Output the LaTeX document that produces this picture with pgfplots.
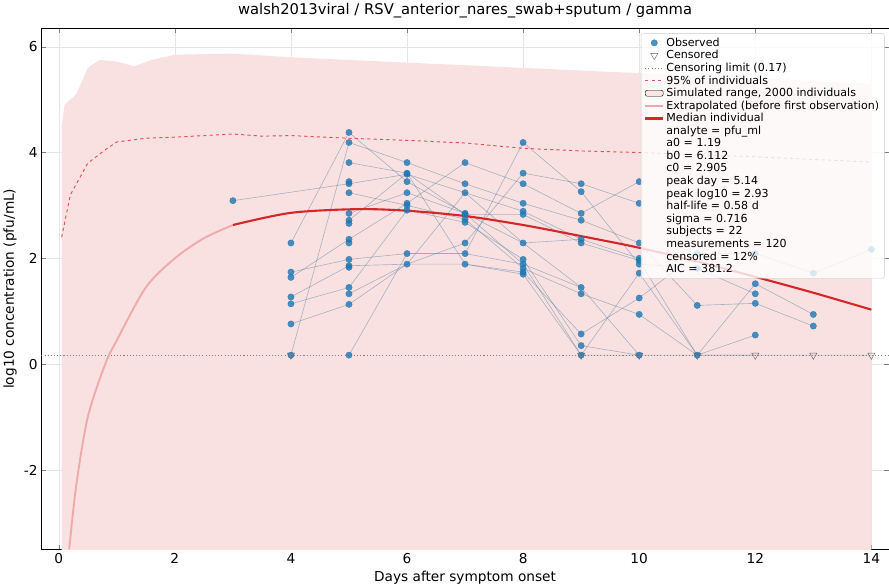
\documentclass[border=0pt]{standalone}
\usepackage{pgfplots}
\pgfplotsset{compat=1.18}
\usepackage{fontspec}
\setmainfont{DejaVu Sans}
\definecolor{obs}{RGB}{31,119,180}
\definecolor{med}{RGB}{214,39,40}
\definecolor{sim}{RGB}{250,225,225}
\begin{document}
\begin{tikzpicture}
\begin{axis}[
 scale only axis, width=805pt, height=495pt,
 xmin=-0.3, xmax=14.3, ymin=-3.5, ymax=6.35,
 xtick={0,2,...,14}, ytick={-2,0,2,4,6},
 tick label style={font=\fontsize{13}{15}\selectfont},
 /pgf/number format/assume math mode=true,
 grid=major, grid style={gray!20},
 title={walsh2013viral / RSV\_anterior\_nares\_swab+sputum / gamma},
 title style={font=\fontsize{14}{16}\selectfont},
 xlabel={Days after symptom onset}, ylabel={log10 concentration (pfu/mL)},
 label style={font=\fontsize{13}{15}\selectfont},
 legend style={at={(0.995,0.99)},anchor=north east,font=\fontsize{10.5}{12}\selectfont,
   fill=white,fill opacity=0.8,text opacity=1,draw=gray!40,rounded corners=2pt,row sep=-1.5pt},
 legend cell align=left,
]
\addplot[fill=sim,draw=none,forget plot] coordinates {(0.05,-3.6)(0.05,4.5)(0.1,4.9)(0.3,5.1)(0.5,5.6)(0.7,5.75)(1,5.72)(1.3,5.63)(1.6,5.75)(2,5.85)(3,5.87)(4,5.8)(6,5.7)(8,5.6)(10,5.5)(12,5.4)(14,5.3)(14,-3.6)} -- cycle;
\pgfplotsset{subj/.style={obs!60!gray,opacity=0.45,line width=0.6pt,forget plot}}
\addplot[subj] coordinates {(3,3.09)(5,3.41)(6,3.59)(7,3.24)(8,2.89)(9,2.36)(10,2.0)};
\addplot[subj] coordinates {(4,2.29)(5,4.38)(6,3.45)(7,2.85)(8,2.29)(9,1.45)(10,0.17)};
\addplot[subj] coordinates {(4,1.74)(5,1.98)(6,2.09)(7,2.09)(8,4.19)(9,3.26)(10,1.89)(11,1.81)(12,1.33)};
\addplot[subj] coordinates {(4,1.64)(5,2.36)(6,3.04)(7,3.81)(8,3.41)(9,2.85)(10,3.45)};
\addplot[subj] coordinates {(4,1.27)(5,1.86)(6,1.89)(7,1.89)(8,1.74)(9,0.57)(10,1.25)(11,2.09)(12,2.09)(13,1.72)(14,2.17)};
\addplot[subj] coordinates {(4,1.14)(5,1.45)(6,2.91)(7,2.68)(8,1.98)(9,0.35)(10,0.17)(11,0.17)(12,0.17)(13,0.17)(14,0.17)};
\addplot[subj] coordinates {(4,0.76)(5,1.13)(6,1.89)(7,2.29)(8,3.61)(9,3.41)(10,3.04)};
\addplot[subj] coordinates {(4,0.17)(5,4.19)(6,3.81)(7,3.41)(8,3.04)(9,2.72)(10,2.29)(11,1.11)(12,1.15)(13,0.72)};
\addplot[subj] coordinates {(5,3.81)(6,3.61)(7,2.83)(8,2.83)(9,2.29)(10,1.96)(11,0.17)(12,0.55)};
\addplot[subj] coordinates {(5,3.24)(6,3.0)(7,2.74)(8,1.81)(9,1.33)(10,0.94)(11,0.17)(12,0.17)};
\addplot[subj] coordinates {(5,2.85)(6,3.24)(7,2.85)(8,1.89)(9,0.17)(10,1.72)(11,0.17)(12,1.52)(13,0.94)};
\addplot[subj] coordinates {(5,2.72)(6,3.61)(7,1.89)(8,1.7)(9,0.17)(10,0.17)};
\addplot[subj] coordinates {(5,0.17)(6,2.09)(7,2.09)(8,1.89)(9,1.45)};
\addplot[subj] coordinates {(5,1.33)(6,1.89)(7,3.24)(8,2.29)(9,2.36)};
\addplot[only marks,mark=*,mark size=3pt,mark options={fill=obs,draw=obs,fill opacity=0.8,draw opacity=0.8}] coordinates {
(3,3.09)
(4,2.29)(4,1.74)(4,1.64)(4,1.27)(4,1.14)(4,0.76)(4,0.17)
(5,4.38)(5,4.19)(5,3.81)(5,3.45)(5,3.41)(5,3.24)(5,2.85)(5,2.72)(5,2.66)(5,2.36)(5,2.29)(5,1.98)(5,1.86)(5,1.83)(5,1.45)(5,1.33)(5,1.13)(5,0.17)
(6,3.81)(6,3.61)(6,3.59)(6,3.45)(6,3.24)(6,3.04)(6,3.0)(6,2.91)(6,2.09)(6,1.89)
(7,3.81)(7,3.41)(7,3.24)(7,2.85)(7,2.83)(7,2.74)(7,2.68)(7,2.29)(7,2.09)(7,1.89)
(8,4.19)(8,3.61)(8,3.41)(8,3.04)(8,2.89)(8,2.83)(8,2.29)(8,1.98)(8,1.89)(8,1.81)(8,1.74)(8,1.70)
(9,3.41)(9,3.26)(9,2.85)(9,2.72)(9,2.36)(9,2.29)(9,1.45)(9,1.33)(9,0.57)(9,0.35)(9,0.17)
(10,3.45)(10,3.04)(10,2.29)(10,2.0)(10,1.96)(10,1.89)(10,1.72)(10,1.25)(10,0.94)(10,0.17)
(11,2.09)(11,1.81)(11,1.11)(11,0.17)
(12,2.09)(12,1.52)(12,1.33)(12,1.15)(12,0.55)
(13,1.72)(13,0.94)(13,0.72)
(14,2.17)};
\addlegendentry{Observed}
\addplot[only marks,mark=triangle,mark size=4pt,mark options={rotate=180,draw=gray!80!black,fill=white,fill opacity=0.3}] coordinates {(4,0.17)(9,0.17)(10,0.17)(11,0.17)(12,0.17)(13,0.17)(14,0.17)};
\addlegendentry{Censored}
\addplot[gray,dotted,line width=1pt] coordinates {(-0.3,0.17)(14.3,0.17)};
\addlegendentry{Censoring limit (0.17)}
\addplot[med!80!white,dashed,line width=0.9pt] coordinates {(0.05,2.4)(0.2,3.2)(0.5,3.8)(0.8,4.05)(1,4.2)(1.5,4.27)(2,4.29)(3,4.35)(3.5,4.31)(4,4.32)(5,4.27)(6,4.23)(7,4.18)(8,4.08)(9,4.03)(10,4.0)(12,3.92)(14,3.82)};
\addlegendentry{95\% of individuals}
\addlegendimage{area legend,fill=sim,draw=none}
\addlegendentry{Simulated range, 2000 individuals}
\addplot[med!40!white,line width=1.8pt,smooth] coordinates {(0.18,-3.5)(0.3,-2.3)(0.5,-1.0)(0.8,0)(1,0.45)(1.5,1.45)(2,2.0)(2.5,2.38)(3,2.63)};
\addlegendentry{Extrapolated (before first observation)}
\addplot[med,line width=2pt,smooth] coordinates {(3,2.63)(4,2.86)(5.14,2.93)(6,2.9)(7,2.8)(8,2.63)(9,2.42)(10,2.2)(11,1.94)(12,1.65)(13,1.35)(14,1.03)};
\addlegendentry{Median individual}
\addlegendimage{empty legend}\addlegendentry{analyte = pfu\_ml}
\addlegendimage{empty legend}\addlegendentry{a0 = 1.19}
\addlegendimage{empty legend}\addlegendentry{b0 = 6.112}
\addlegendimage{empty legend}\addlegendentry{c0 = 2.905}
\addlegendimage{empty legend}\addlegendentry{peak day = 5.14}
\addlegendimage{empty legend}\addlegendentry{peak log10 = 2.93}
\addlegendimage{empty legend}\addlegendentry{half-life = 0.58 d}
\addlegendimage{empty legend}\addlegendentry{sigma = 0.716}
\addlegendimage{empty legend}\addlegendentry{subjects = 22}
\addlegendimage{empty legend}\addlegendentry{measurements = 120}
\addlegendimage{empty legend}\addlegendentry{censored = 12\%}
\addlegendimage{empty legend}\addlegendentry{AIC = 381.2}
\end{axis}
\end{tikzpicture}
\end{document}
